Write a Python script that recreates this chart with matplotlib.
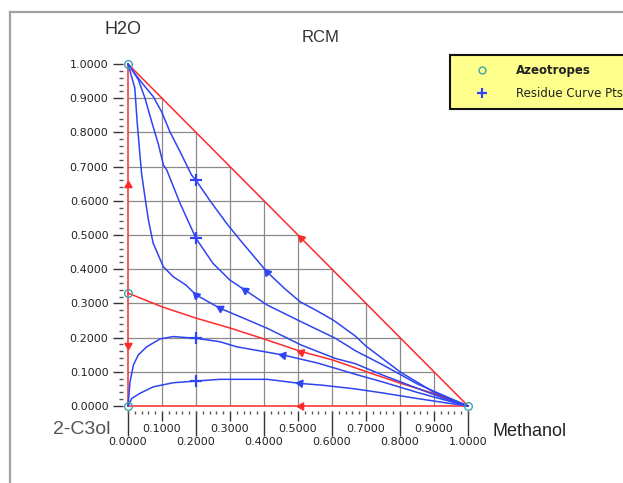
import numpy as np
import matplotlib
matplotlib.use("Agg")
import matplotlib.pyplot as plt
from matplotlib.lines import Line2D
from matplotlib.ticker import MultipleLocator, FixedLocator, FormatStrFormatter

# residue curves, mole fractions (methanol, water); each runs from its start node to methanol
c3_x = [0.0, 0.02, 0.045, 0.074, 0.099, 0.124, 0.153, 0.187, 0.20, 0.24, 0.29, 0.33, 0.408, 0.46, 0.506, 0.56, 0.604, 0.668, 0.70, 0.80, 0.90, 1.0]
c3_y = [1.0, 0.972, 0.94, 0.905, 0.86, 0.80, 0.744, 0.675, 0.66, 0.602, 0.534, 0.485, 0.393, 0.344, 0.305, 0.276, 0.251, 0.205, 0.175, 0.10, 0.04, 0.0]

c2_x = [0.0, 0.03, 0.05, 0.07, 0.09, 0.104, 0.114, 0.153, 0.20, 0.25, 0.30, 0.344, 0.41, 0.51, 0.61, 0.668, 0.75, 0.85, 0.93, 1.0]
c2_y = [1.0, 0.955, 0.90, 0.83, 0.763, 0.705, 0.69, 0.593, 0.49, 0.417, 0.368, 0.339, 0.295, 0.246, 0.198, 0.162, 0.12, 0.065, 0.03, 0.0]

c1_x = [0.0, 0.02, 0.027, 0.035, 0.04, 0.05, 0.06, 0.074, 0.104, 0.133, 0.17, 0.20, 0.27, 0.33, 0.41, 0.51, 0.61, 0.668, 0.75, 0.85, 0.93, 1.0]
c1_y = [1.0, 0.93, 0.83, 0.735, 0.68, 0.61, 0.544, 0.476, 0.407, 0.378, 0.354, 0.325, 0.286, 0.261, 0.227, 0.178, 0.139, 0.124, 0.09, 0.052, 0.022, 0.0]

h1_x = [0.0, 0.006, 0.016, 0.03, 0.055, 0.094, 0.133, 0.20, 0.27, 0.32, 0.457, 0.56, 0.668, 0.75, 0.85, 0.93, 1.0]
h1_y = [0.0, 0.071, 0.12, 0.149, 0.173, 0.196, 0.203, 0.198, 0.188, 0.173, 0.149, 0.125, 0.093, 0.07, 0.04, 0.018, 0.0]

h2_x = [0.0, 0.011, 0.035, 0.074, 0.133, 0.20, 0.27, 0.41, 0.506, 0.57, 0.668, 0.75, 0.85, 0.93, 1.0]
h2_y = [0.0, 0.022, 0.037, 0.056, 0.068, 0.073, 0.078, 0.078, 0.066, 0.061, 0.05, 0.038, 0.022, 0.01, 0.0]

# distillation boundary from the 2-propanol/water azeotrope to methanol
bd_x = [0.0, 0.1, 0.2, 0.3, 0.4, 0.51, 0.604, 0.702, 0.8, 0.898, 1.0]
bd_y = [0.33, 0.29, 0.257, 0.228, 0.196, 0.159, 0.134, 0.10, 0.067, 0.037, 0.0]

# azeotropes and pure components
az_x = [0.0, 0.0, 0.0, 1.0]
az_y = [1.0, 0.33, 0.0, 0.0]

# arrow spots (x on a curve, or y on the water-2-propanol edge)
c3_arrows = [0.408]
c2_arrows = [0.344]
c1_arrows = [0.20, 0.27]
h1_arrows = [0.457]
h2_arrows = [0.506]
bd_arrows = [0.51]
hyp_arrows = [0.51]
base_arrows = [0.51]
edge_up_arrows = [0.646]
edge_dn_arrows = [0.178]
plus_x = 0.20

odd_ticks = [0.1, 0.3, 0.5, 0.7, 0.9]
even_ticks = [0.0, 0.2, 0.4, 0.6, 0.8, 1.0]

BLUE = "#2f44f2"
RED = "#ff2a2a"
TEAL = "#3aa6a6"
W, H = 623, 483

plt.rcParams["font.family"] = "DejaVu Sans"

fig = plt.figure(figsize=(W / 100, H / 100), dpi=100)
ax = fig.add_axes([128 / W, 77 / H, 340 / W, 342 / H])
ax.set_xlim(0, 1)
ax.set_ylim(0, 1)
for s in ax.spines.values():
    s.set_visible(False)


def locate(xs, ys, x=None, y=None):
    xs = np.asarray(xs, float)
    ys = np.asarray(ys, float)
    vals = xs if x is not None else ys
    t = x if x is not None else y
    for i in range(len(xs) - 1):
        a, b = vals[i], vals[i + 1]
        if min(a, b) <= t <= max(a, b) and a != b:
            f = (t - a) / (b - a)
            px = xs[i] + f * (xs[i + 1] - xs[i])
            py = ys[i] + f * (ys[i + 1] - ys[i])
            # pointing back toward the start of the curve
            ang = np.degrees(np.arctan2(ys[i] - ys[i + 1], xs[i] - xs[i + 1]))
            return px, py, ang
    return xs[0], ys[0], 0.0


def arrows(xs, ys, spots, color, by="x"):
    for v in spots:
        px, py, ang = locate(xs, ys, **{by: v})
        ax.plot(px, py, marker=(3, 0, ang - 90), ms=6, color=color,
                mec=color, ls="none", clip_on=False, zorder=5)


# grid inside the triangle only
for g in np.arange(1, 10) / 10:
    ax.plot([g, g], [0, 1 - g], color="#8a8a8a", lw=0.9, zorder=1)
    ax.plot([0, 1 - g], [g, g], color="#8a8a8a", lw=0.9, zorder=1)

# triangle edges and boundary
ax.plot([0, 0], [0, 1], color=RED, lw=1.1, clip_on=False, zorder=3)
ax.plot([0, 1], [0, 0], color=RED, lw=1.1, clip_on=False, zorder=3)
ax.plot([0, 1], [1, 0], color=RED, lw=1.1, clip_on=False, zorder=3)
ax.plot(bd_x, bd_y, color=RED, lw=1.1, clip_on=False, zorder=3)

arrows([0, 0], [1, az_y[1]], edge_up_arrows, RED, by="y")
arrows([0, 0], [0, az_y[1]], edge_dn_arrows, RED, by="y")
arrows([0, 1], [0, 0], base_arrows, RED)
arrows([0, 1], [1, 0], hyp_arrows, RED)
arrows(bd_x, bd_y, bd_arrows, RED)

curves = [(c3_x, c3_y, c3_arrows), (c2_x, c2_y, c2_arrows), (c1_x, c1_y, c1_arrows),
          (h1_x, h1_y, h1_arrows), (h2_x, h2_y, h2_arrows)]
for xs, ys, spots in curves:
    ax.plot(xs, ys, color=BLUE, lw=1.1, clip_on=False, zorder=4)
    arrows(xs, ys, spots, BLUE)

pts = ax.plot([plus_x] * 4,
              [np.interp(plus_x, c3_x, c3_y), np.interp(plus_x, c2_x, c2_y),
               np.interp(plus_x, h1_x, h1_y), np.interp(plus_x, h2_x, h2_y)],
              ls="none", marker="+", ms=8, mew=1.6, color=BLUE, zorder=6,
              label="Residue Curve Pts")[0]
azs = ax.plot(az_x, az_y, ls="none", marker="o", ms=5.5, mfc="none", mec=TEAL,
              mew=1.0, clip_on=False, zorder=7, label="Azeotropes")[0]

# y axis ticks
ax.spines["left"].set_position(("outward", 3.6))
ax.yaxis.set_major_locator(MultipleLocator(0.1))
ax.yaxis.set_minor_locator(MultipleLocator(0.02))
ax.yaxis.set_major_formatter(FormatStrFormatter("%.4f"))
ax.tick_params(axis="y", which="major", length=7, width=1, color="#333333",
               pad=3.5, labelsize=8, labelcolor="#222222")
ax.tick_params(axis="y", which="minor", length=3, width=1, color="#555555")

# x axis: odd labels on the upper row
ax.spines["bottom"].set_position(("outward", 3.6))
ax.xaxis.set_major_locator(FixedLocator(odd_ticks))
ax.xaxis.set_minor_locator(MultipleLocator(0.02))
ax.xaxis.set_major_formatter(FormatStrFormatter("%.4f"))
ax.tick_params(axis="x", which="major", length=7, width=1, color="#333333",
               pad=2.5, labelsize=8, labelcolor="#222222")
ax.tick_params(axis="x", which="minor", length=2.5, width=1, color="#555555")

# even labels on the lower row
sec = ax.secondary_xaxis(-5 / 342)
for s in sec.spines.values():
    s.set_visible(False)
sec.set_xticks(even_ticks)
sec.xaxis.set_major_formatter(FormatStrFormatter("%.4f"))
sec.tick_params(axis="x", length=18, width=1, color="#333333", pad=1,
                labelsize=8, labelcolor="#222222")

# outer frame
fig.add_artist(Line2D([10 / W, 10 / W], [0, 1 - 12 / H], transform=fig.transFigure,
                      color="#a0a0a0", lw=1.6))
fig.add_artist(Line2D([10 / W, 1], [1 - 12 / H, 1 - 12 / H], transform=fig.transFigure,
                      color="#a0a0a0", lw=1.6))

lab = dict(family="Liberation Sans", ha="center", va="center")
fig.text(123 / W, 1 - 30 / H, "H2O", fontsize=13, color="#333333", **lab)
fig.text(321 / W, 1 - 37 / H, "RCM", fontsize=12, color="#333333", **lab)
fig.text(82 / W, 1 - 430 / H, "2-C3ol", fontsize=14, color="#555555", **lab)
fig.text(530 / W, 1 - 432 / H, "Methanol", fontsize=13, color="#222222", **lab)

leg = fig.legend(handles=[azs, pts], loc="upper left",
                 bbox_to_anchor=(450 / W, 1 - 55 / H), borderaxespad=0,
                 fontsize=8.5, frameon=True, fancybox=False, borderpad=0.75,
                 handlelength=4.0, handletextpad=0.8, labelspacing=0.85,
                 markerscale=0.9)
leg.get_frame().set_facecolor("#ffff8c")
leg.get_frame().set_edgecolor("#111111")
leg.get_frame().set_linewidth(1.5)
leg.get_frame().set_alpha(1)
leg.get_texts()[0].set_fontweight("bold")
for t in leg.get_texts():
    t.set_color("#222222")

fig.savefig("out.png", dpi=100)
